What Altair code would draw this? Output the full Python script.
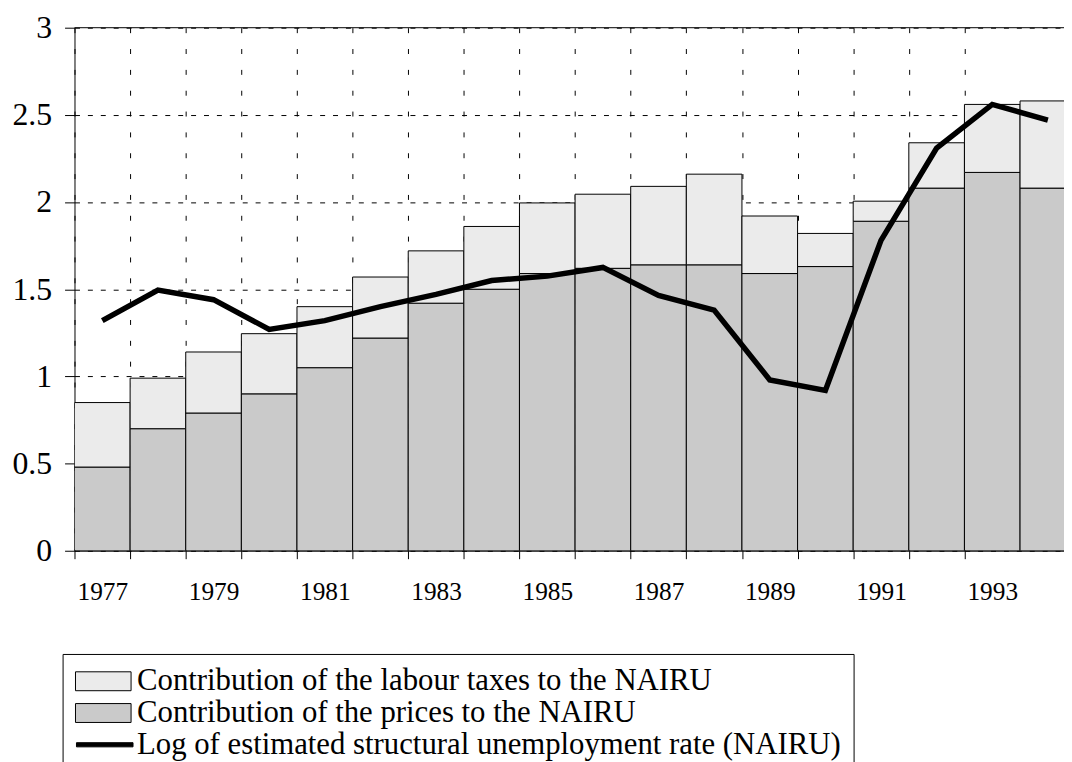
import altair as alt
import pandas as pd

years = list(range(1977, 1995))
prices = [0.48, 0.70, 0.79, 0.90, 1.05, 1.22, 1.42, 1.50, 1.59, 1.62, 1.64, 1.64, 1.59, 1.63, 1.89, 2.08, 2.17, 2.08]
labour = [0.37, 0.29, 0.35, 0.345, 0.35, 0.35, 0.30, 0.36, 0.405, 0.425, 0.45, 0.52, 0.33, 0.19, 0.115, 0.26, 0.39, 0.50]
nairu = [1.32, 1.495, 1.44, 1.27, 1.32, 1.40, 1.47, 1.55, 1.575, 1.625, 1.465, 1.38, 0.98, 0.92, 1.78, 2.31, 2.56, 2.47]

L1 = "Contribution of the labour taxes to the NAIRU"
L2 = "Contribution of the prices to the NAIRU"
L3 = "Log of estimated structural unemployment rate (NAIRU)"
series = [L1, L2, L3]
fills = ["#ebebeb", "#cacaca", "#000000"]
strokes = ["#000000", "#000000", "#000000"]
shapes = [
    "M-2.07,-1.36H5.93V1.36H-2.07Z",
    "M-2.07,-1.36H5.93V1.36H-2.07Z",
    "M-1.93,-0.3H6.21V0.3H-1.93Z",
]

x_bounds = [y - 0.5 for y in years[:-1]]
x_labels = [y for y in years if y % 2 == 1]
y_ticks = [0, 0.5, 1, 1.5, 2, 2.5, 3]
y_top = [3]

rows = []
for yr, p, l in zip(years, prices, labour):
    rows.append({"year": yr, "series": L2, "lo": 0.0, "hi": p})
    rows.append({"year": yr, "series": L1, "lo": p, "hi": p + l})
bars_df = pd.DataFrame(rows)
line_df = pd.DataFrame({"year": years, "nairu": nairu})
leg_df = pd.DataFrame({"series": series})
top_df = pd.DataFrame({"v": y_top})

FONT = "Liberation Serif"

x_axis = alt.Axis(
    values=x_bounds + x_labels,
    title=None,
    labelExpr="datum.value % 2 === 1 ? toString(datum.value) : ''",
    labelOverlap=False,
    labelFlush=False,
    labelFont=FONT,
    labelFontSize=25.5,
    labelColor="black",
    labelPadding=21,
    tickSize=8,
    tickColor="black",
    tickOpacity={"condition": {"test": "datum.value % 1 === 0", "value": 0}, "value": 1},
    domainColor="black",
    grid=True,
    gridColor="black",
    gridDash=[5, 16],
    gridOpacity={"condition": {"test": "datum.value % 1 === 0", "value": 0}, "value": 1},
)
y_axis = alt.Axis(
    values=y_ticks,
    title=None,
    labelExpr="toString(datum.value)",
    labelFont=FONT,
    labelFontSize=32,
    labelColor="black",
    labelPadding=13,
    tickSize=10,
    tickColor="black",
    domainColor="black",
    grid=True,
    gridColor="black",
    gridDash=[5, 8],
)

xs = alt.Scale(domain=[1976.5, 1994.29], nice=False, zero=False)
ys = alt.Scale(domain=[0, 3], nice=False)
fill_scale = alt.Scale(domain=series, range=fills)
stroke_scale = alt.Scale(domain=series, range=strokes)
shape_scale = alt.Scale(domain=series, range=shapes)

leg = alt.Legend(
    title=None,
    orient="none",
    legendX=-12,
    legendY=631,
    strokeColor="black",
    fillColor="white",
    padding=12,
    labelFont=FONT,
    labelFontSize=31,
    labelColor="black",
    labelOffset=32,
    labelLimit=1000,
    symbolSize=196,
    symbolStrokeWidth=1,
    symbolOpacity=1,
    rowPadding=0,
)

bars = alt.Chart(bars_df).transform_calculate(
    x0="datum.year - 0.5", x1="datum.year + 0.5"
).mark_rect(stroke="black", strokeWidth=1, clip=True).encode(
    x=alt.X("x0:Q", scale=xs, axis=x_axis),
    x2="x1:Q",
    y=alt.Y("lo:Q", scale=ys, axis=y_axis),
    y2="hi:Q",
    fill=alt.Fill("series:N", scale=fill_scale, legend=None),
)

top_rule = alt.Chart(top_df).mark_rule(color="black", strokeWidth=1).encode(
    y=alt.Y("v:Q", scale=ys, axis=y_axis),
)

line = alt.Chart(line_df).mark_line(color="black", strokeWidth=5.5, clip=True).encode(
    x=alt.X("year:Q", scale=xs, axis=x_axis),
    y=alt.Y("nairu:Q", scale=ys, axis=y_axis),
)

legend_layer = alt.Chart(leg_df).transform_filter("false").mark_point(
    filled=True, size=196, opacity=1, strokeWidth=1
).encode(
    shape=alt.Shape("series:N", scale=shape_scale, legend=leg),
    fill=alt.Fill("series:N", scale=fill_scale, legend=leg),
    stroke=alt.Stroke("series:N", scale=stroke_scale, legend=leg),
)

chart = alt.layer(bars, top_rule, line, legend_layer).resolve_legend(
    fill="independent", shape="independent", stroke="independent"
).properties(
    width=997,
    height=527,
    autosize=alt.AutoSizeParams(type="none"),
    padding={"left": 67, "top": 17, "right": 0, "bottom": 210},
    background="white",
).configure_view(stroke=None)

chart.save("out.html", embed_options={"renderer": "svg", "actions": False})
